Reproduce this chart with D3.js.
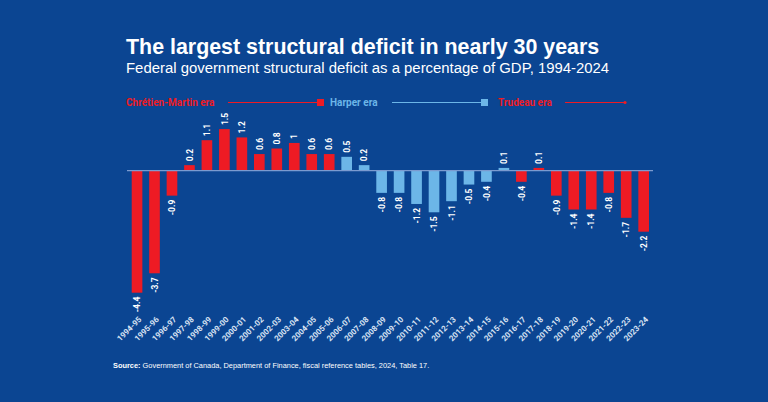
<!DOCTYPE html>
<html>
<head>
<meta charset="utf-8">
<script src="https://cdn.jsdelivr.net/npm/d3@7"></script>
<style>
html,body{margin:0;padding:0;background:#0b4592;}
svg{display:block;}
</style>
</head>
<body>
<svg id="chart" width="768" height="402"></svg>
<script>
const years = ["1994-95","1995-96","1996-97","1997-98","1998-99","1999-00","2000-01","2001-02","2002-03","2003-04","2004-05","2005-06","2006-07","2007-08","2008-09","2009-10","2010-11","2011-12","2012-13","2013-14","2014-15","2015-16","2016-17","2017-18","2018-19","2019-20","2020-21","2021-22","2022-23","2023-24"];
const values = [-4.4,-3.7,-0.9,0.2,1.1,1.5,1.2,0.6,0.8,1,0.6,0.6,0.5,0.2,-0.8,-0.8,-1.2,-1.5,-1.1,-0.5,-0.4,0.1,-0.4,0.1,-0.9,-1.4,-1.4,-0.8,-1.7,-2.2];
const eras = ["CM","CM","CM","CM","CM","CM","CM","CM","CM","CM","CM","CM","H","H","H","H","H","H","H","H","H","H","T","T","T","T","T","T","T","T"];
const legendLabels = ["Chrétien-Martin era","Harper era","Trudeau era"];
const title = "The largest structural deficit in nearly 30 years";
const subtitle = "Federal government structural deficit as a percentage of GDP, 1994-2024";

const RED = "#ee1b24", BLUE = "#6cb6e8";
const colorFor = e => e === "H" ? BLUE : RED;

const svg = d3.select("#chart");
svg.append("rect").attr("width",768).attr("height",402).attr("fill","#0b4592");

svg.append("text").attr("x",126).attr("y",54)
  .attr("font-family","Liberation Sans, Arial, sans-serif").attr("font-weight","bold")
  .attr("font-size",21.4).attr("fill","#ffffff").text(title);
svg.append("text").attr("x",126).attr("y",72.5)
  .attr("font-family","Liberation Sans, Arial, sans-serif")
  .attr("font-size",14.9).attr("fill","#ffffff").text(subtitle);

// legend
const legY = 102.5;
const leg = [
  {label: legendLabels[0], color: RED, tx: 126, l0: 228, l1: 317, sq: true},
  {label: legendLabels[1], color: BLUE, tx: 330, l0: 392, l1: 481, sq: true},
  {label: legendLabels[2], color: RED, tx: 498, l0: 565, l1: 625, sq: false}
];
leg.forEach(d => {
  svg.append("text").attr("x",d.tx).attr("y",legY+3.5)
    .attr("font-family","Roboto, sans-serif").attr("font-weight","bold")
    .attr("font-size",10).attr("fill",d.color).text(d.label);
  svg.append("line").attr("x1",d.l0).attr("x2",d.l1).attr("y1",legY).attr("y2",legY)
    .attr("stroke",d.color).attr("stroke-width",1.2);
  if (d.sq) {
    svg.append("rect").attr("x",d.l1).attr("y",legY-3.5).attr("width",7).attr("height",7).attr("fill",d.color);
  } else {
    svg.append("circle").attr("cx",d.l1).attr("cy",legY).attr("r",1.6).attr("fill",d.color);
  }
});

const x = d3.scaleBand().domain(years).range([128.3,652.4]).paddingInner(0.39).paddingOuter(0.195);
const y = d3.scaleLinear().domain([-4.4,1.5]).range([292.7,129.1]);

const g = svg.append("g");
g.selectAll("rect.bar").data(values).join("rect").attr("class","bar")
  .attr("x",(d,i)=>x(years[i]))
  .attr("width",x.bandwidth())
  .attr("y",d=>y(Math.max(0,d)))
  .attr("height",d=>Math.abs(y(d)-y(0)))
  .attr("fill",(d,i)=>colorFor(eras[i]));

// zero line
g.append("line").attr("x1",127).attr("x2",653).attr("y1",y(0)).attr("y2",y(0))
  .attr("stroke","#7b9bd0").attr("stroke-width",1.2);

// value labels
g.selectAll("text.val").data(values).join("text").attr("class","val")
  .attr("transform",(d,i)=>{
    const cx = x(years[i]) + x.bandwidth()/2 + 3.2;
    const yy = d >= 0 ? y(d) - 4 : y(d) + 4;
    return `translate(${cx},${yy}) rotate(-90)`;
  })
  .attr("text-anchor",d=>d>=0?"start":"end")
  .attr("font-family","Roboto, sans-serif").attr("font-weight","bold")
  .attr("font-size",8.5).attr("fill","#ffffff")
  .text(d=>String(d));

// x axis labels
const xAxis = d3.axisBottom(x).tickSize(0).tickPadding(0);
const ax = svg.append("g").attr("transform","translate(0,318)").call(xAxis);
ax.select(".domain").remove();
ax.selectAll("text")
  .attr("font-family","Roboto, sans-serif").attr("font-weight","bold")
  .attr("font-size",8).attr("fill","#d8e2f2")
  .attr("text-anchor","end").attr("dy","0.35em").attr("y",0)
  .attr("transform","translate(3,0) rotate(-45)");

// source
const src = svg.append("text").attr("x",113).attr("y",368)
  .attr("font-family","Liberation Sans, Arial, sans-serif").attr("font-size",7.4).attr("fill","#ffffff");
src.append("tspan").attr("font-weight","bold").text("Source:");
src.append("tspan").text(" Government of Canada, Department of Finance, fiscal reference tables, 2024, Table 17.");
</script>
</body>
</html>
